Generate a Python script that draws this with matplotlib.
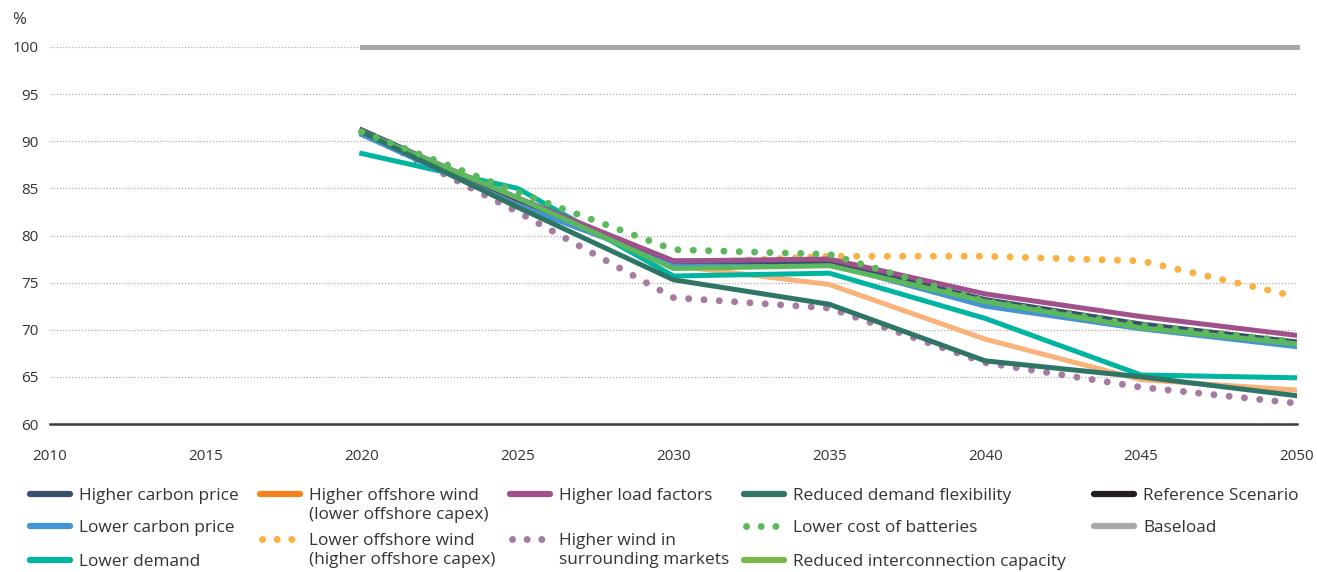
import matplotlib
matplotlib.use("Agg")
import matplotlib.pyplot as plt
from matplotlib.lines import Line2D

plt.rcParams["font.family"] = ["Open Sans", "DejaVu Sans"]

years = [2020, 2025, 2030, 2035, 2040, 2045, 2050]

reference = [91.0, 83.8, 77.1, 77.1, 73.0, 70.4, 68.6]
higher_carbon = [91.2, 83.8, 77.3, 77.2, 73.2, 70.6, 68.7]
lower_carbon = [90.7, 83.2, 77.0, 77.0, 72.5, 70.1, 68.2]
lower_demand = [88.7, 85.0, 75.7, 76.0, 71.2, 65.2, 64.9]
higher_offshore = [91.0, 83.6, 76.8, 74.8, 69.0, 64.7, 63.6]
lower_offshore = [91.0, 84.0, 77.0, 77.8, 77.8, 77.3, 73.5]
higher_load = [91.0, 84.0, 77.3, 77.5, 73.8, 71.4, 69.4]
higher_wind_surr = [91.0, 82.5, 73.4, 72.3, 66.5, 63.9, 62.2]
reduced_flex = [91.0, 83.0, 75.3, 72.7, 66.7, 65.0, 63.0]
lower_batteries = [91.0, 84.6, 78.5, 78.0, 73.0, 70.5, 68.7]
reduced_interconn = [91.0, 84.0, 76.5, 76.8, 73.0, 70.2, 68.5]
baseload = [100, 100, 100, 100, 100, 100, 100]

fig = plt.figure(figsize=(13.17, 5.72), dpi=100)
ax = fig.add_axes([50 / 1317, 148 / 572, 1247 / 1317, 377 / 572])

lw = 3.6
dlw = 5.0
dots = (0, (0.01, 2.2))

ax.plot(years, baseload, color="#a7a8aa", lw=lw, clip_on=False, zorder=3)
ax.plot(years, reference, color="#231f20", lw=lw, zorder=3)
ax.plot(years, higher_wind_surr, color="#a57ba0", lw=dlw, ls=dots, dash_capstyle="round", zorder=3)
ax.plot(years, lower_offshore, color="#fbb040", lw=dlw, ls=dots, dash_capstyle="round", zorder=3)
ax.plot(years, higher_offshore, color="#f8b27a", lw=lw, zorder=3)
ax.plot(years, lower_demand, color="#00b5a0", lw=lw, zorder=3)
ax.plot(years, lower_carbon, color="#4593d0", lw=lw, zorder=3)
ax.plot(years, higher_carbon, color="#3a4e6e", lw=lw, zorder=3)
ax.plot(years, higher_load, color="#a0508a", lw=lw, zorder=3)
ax.plot(years, reduced_interconn, color="#5cb85c", lw=lw, zorder=3)
ax.plot(years, reduced_flex, color="#2e7565", lw=lw, zorder=3)
ax.plot(years, lower_batteries, color="#5cb85c", lw=dlw, ls=dots, dash_capstyle="round", zorder=3)

ax.set_xlim(2010, 2050)
ax.set_ylim(60, 100)
ax.set_xticks(range(2010, 2051, 5))
ax.set_yticks(range(60, 101, 5))
ax.tick_params(length=0, labelsize=11, colors="#333333")
ax.tick_params(axis="x", pad=18)
ax.tick_params(axis="y", pad=8)
ax.grid(axis="y", color="#b0b0b0", ls=(0, (1, 1.5)), lw=0.9)
ax.set_axisbelow(True)
for s in ["top", "right", "left"]:
    ax.spines[s].set_visible(False)
ax.spines["bottom"].set_color("#3c3c3c")
ax.spines["bottom"].set_linewidth(1.8)
ax.spines["bottom"].set_zorder(4)

fig.text(12 / 1317, 1 - 20 / 572, "%", fontsize=12, color="#333333", va="center")

# legend drawn by hand: label, colour, dotted, handle x, row y (pixels)
legend_items = [
    ("Higher carbon price", "#3a4e6e", False, 28, 494),
    ("Lower carbon price", "#4593d0", False, 28, 526),
    ("Lower demand", "#00b5a0", False, 28, 560),
    ("Higher offshore wind\n(lower offshore capex)", "#f58220", False, 258, 494),
    ("Lower offshore wind\n(higher offshore capex)", "#fbb040", True, 258, 539),
    ("Higher load factors", "#a0508a", False, 508, 494),
    ("Higher wind in\nsurrounding markets", "#a57ba0", True, 508, 539),
    ("Reduced demand flexibility", "#2e7565", False, 742, 494),
    ("Lower cost of batteries", "#5cb85c", True, 742, 526),
    ("Reduced interconnection capacity", "#7ab648", False, 742, 560),
    ("Reference Scenario", "#231f20", False, 1092, 494),
    ("Baseload", "#a7a8aa", False, 1092, 526),
]
for label, col, dotted, hx, hy in legend_items:
    fy = 1 - hy / 572
    if dotted:
        ln = Line2D([(hx + 4) / 1317, (hx + 38) / 1317], [fy, fy], transform=fig.transFigure,
                    color=col, lw=5, ls=(0, (0.01, 2.1)), dash_capstyle="round")
    else:
        ln = Line2D([(hx + 2) / 1317, (hx + 42) / 1317], [fy, fy], transform=fig.transFigure,
                    color=col, lw=4.5, solid_capstyle="round")
    fig.add_artist(ln)
    fig.text((hx + 51) / 1317, fy + 6 / 572, label, fontsize=12.4, color="#333333",
             va="top", ha="left", linespacing=1.25)

fig.savefig("out.png", dpi=100)
